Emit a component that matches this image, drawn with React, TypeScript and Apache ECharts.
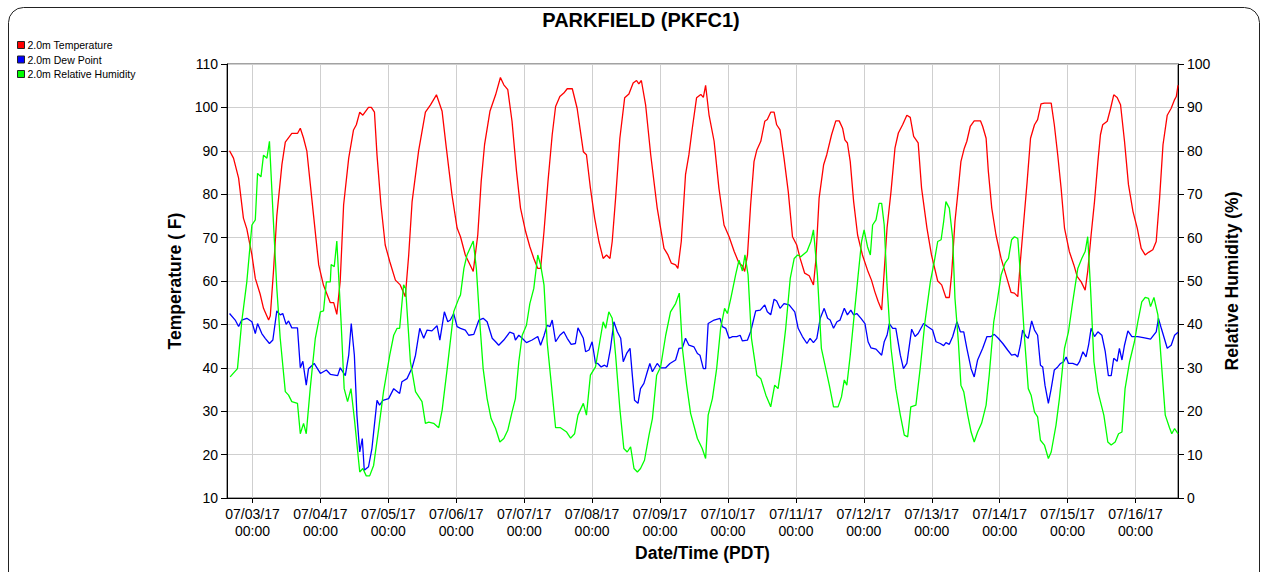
import React, { useEffect, useRef } from "react";
import * as echarts from "echarts";

// Hours are counted from 07/03/17 00:00 (PDT)
const BASE_TIME = Date.UTC(2017, 6, 3, 0, 0);
const X_MIN_HOURS = -9;
const X_MAX_HOURS = 327;
const dayTickHours = [0, 24, 48, 72, 96, 120, 144, 168, 192, 216, 240, 264, 288, 312];

const temperature: [number, number][] = [
  [-8.1, 90], [-6.7, 88.3], [-4.9, 83.7], [-3.2, 74.5], [-2, 72], [-0.2, 66], [1, 60.6], [2.7, 57], [3.9, 53.7], [5.7, 51], [6.3, 52], [7.4, 62], [8.6, 75], [10.4, 86.8], [11.6, 92], [13.9, 94], [15.9, 94], [16.9, 95.2], [18, 93], [19.2, 90], [21.6, 75], [23.4, 63.7], [25.1, 59], [27.5, 55], [28.7, 55], [29.8, 52.3], [31, 60],
  [32.2, 77.5], [34, 88.3], [35.7, 94.8], [36.7, 96], [37.9, 98.9], [39, 98.2], [41, 100], [42, 100], [43.1, 98.9], [44, 89], [45.4, 77.5], [46.9, 68.3], [48.5, 64.5], [50.5, 60.2], [52.2, 59.1], [54, 56.4], [55.2, 66], [56.4, 78.3], [58.7, 90], [61.1, 98.9], [62.9, 100.6], [65, 102.9], [67, 99.1], [68.5, 90.6], [70.5, 79.8], [72.3, 72.2],
  [73.5, 70.2], [75.2, 66], [78, 62.2], [79.6, 70.6], [80.8, 82.9], [82, 91.4], [83.9, 99.1], [85.9, 102.9], [87.6, 106.9], [88.8, 105.2], [90.2, 104.1], [91.7, 96.8], [93.3, 85.2], [94.7, 76.8], [96.5, 71.4], [98, 67.9], [99.4, 65.2], [100.8, 62.9], [101.8, 62.9], [103, 71.4], [104.4, 82.9], [105.9, 93.7], [107.1, 100.2], [108.6, 102.5], [110, 103.3], [111.2, 104.3], [113, 104.3], [114.7, 99.8],
  [116.9, 89.8], [118, 89.1], [119.4, 81.4], [120.9, 74.5], [122.4, 69.1], [123.9, 65.2], [125.1, 66], [126.3, 65.2], [127.1, 69.1], [128.3, 79.1], [129.8, 92.9], [131.5, 102.2], [133, 103.1], [134.5, 105.6], [135.7, 106.2], [136.5, 105.4], [137.4, 106.2], [138.9, 100.6], [140.7, 89.1], [143, 76.8], [145.4, 67.5], [146.8, 66], [148, 64.1], [149.5, 63.7], [150.3, 62.9], [151.5, 69.1], [153, 84.5], [154.2, 89.1], [155.4, 95.2], [156.9, 102.2], [158.4, 103],
  [159.3, 102.3], [160.1, 105.1], [161.3, 98.3], [163.1, 92.2], [164.8, 81.4], [166.6, 72.9], [168.4, 70.2], [170.2, 66.8], [171.9, 64.1], [173.1, 63.5], [173.9, 62.2], [174.9, 66], [176, 77.5], [177.2, 87.5], [178.2, 90.2], [179.6, 92.2], [181, 96.8], [181.9, 97.2], [183.1, 98.9], [184.3, 98.9], [185.2, 96], [186.4, 94.8], [187.8, 88.3], [189.3, 80.6], [190.8, 70.2], [192.3, 68.3], [193.5, 65.2], [195.1, 61.8], [196.7, 61.2], [198.2, 59.1], [199, 64.5], [200.2, 79.1], [201.8, 86.8], [202.9, 89.1],
  [204.6, 93.7], [206.1, 96.9], [207.3, 96.9], [208.5, 95.2], [209.3, 92.5], [210.2, 91.8], [211.2, 87.5], [212.4, 78.3], [213.8, 70.6], [215.5, 66], [217.3, 62.5], [218.7, 60.2], [219.9, 57.5], [221.1, 55.2], [222.3, 53.3], [223.2, 62.2], [224.2, 72.2], [225.6, 80.6], [227, 90.6], [228.2, 94.1], [229.7, 96], [231.2, 98.2], [232.4, 97.7], [233.6, 93.3], [235.2, 91.8], [236.4, 81.4], [238.3, 72.2], [239.9, 66], [242.1, 60], [243.5, 59.1], [245, 56.2],
  [246.2, 56.2], [247, 61.4], [248.2, 73.7], [249.4, 81.4], [250.3, 87.5], [251.5, 90.6], [252.4, 92.2], [253.6, 95.6], [255, 96.9], [257.2, 96.9], [258, 95.6], [259.2, 92.9], [260, 85.2], [261.2, 76.8], [262.7, 70.6], [264.5, 65.2], [266.2, 61.4], [268, 57.4], [269.2, 57.2], [270.4, 56.4], [271.3, 64.5], [272.5, 73.7], [273.7, 82.9], [274.9, 92.9], [276.3, 96], [277.4, 97.2], [278.6, 100.8], [279.8, 101], [282.2, 101], [283.3, 96], [284.5, 89.1], [285.7, 81.4],
  [286.9, 72.2], [288.6, 66.8], [290.2, 63.7], [291.4, 61], [292.8, 59.8], [294.2, 57.9], [295.1, 62.2], [296.3, 70.6], [297.5, 78.3], [298.7, 87.5], [299.6, 93.7], [300.4, 96], [302, 96.8], [303.2, 99.8], [304.3, 102.9], [305.5, 102.3], [306.7, 100.6], [308.1, 92.2], [309.5, 82.2], [311.1, 76], [312.6, 72.2], [314, 67.5], [315.4, 66], [316.6, 66.6], [318.1, 67.2], [319.3, 69.1], [320.5, 79.1], [321.7, 91.4], [323.2, 98.2], [324.6, 99.8], [325.8, 101.8], [326.4, 102.5], [327, 105.1],
];

const dewPoint: [number, number][] = [
  [-8.1, 52.5], [-6.1, 51], [-4.9, 49.5], [-3.8, 51], [-2, 51.4], [-0.2, 50.6], [1, 47.9], [1.8, 50.2], [3.3, 47.9], [4.5, 46.8], [6, 45.6], [7.2, 46.4], [8.6, 53.1], [9.8, 52.2], [10.7, 52.5], [11.9, 50], [12.75, 50.8], [13.9, 49.2], [15.9, 49.2], [16.9, 40], [17.8, 41.5], [19, 36], [19.8, 39.8], [21.8, 41], [24, 38.7], [26.1, 39.5], [27.5, 38.5], [30.1, 38.2], [31, 40],
  [32.8, 38.2], [34, 42.9], [34.9, 50.2], [36, 42.9], [36.9, 29.1], [37.9, 20.6], [38.8, 23.7], [39.5, 16.4], [41, 17.2], [42.2, 21.4], [44, 32.5], [44.9, 31.4], [46.1, 32.5], [48.1, 32.9], [49.9, 35.2], [52, 34.1], [52.8, 36.8], [54.6, 37.5], [56.4, 40], [57.6, 42.9], [59.1, 49.1], [60.5, 46.8], [61.7, 48.7], [63.4, 48.5], [65.2, 49.7], [66.2, 46.4], [67.8, 52.9], [69, 50.6], [69.9, 51], [71.1, 52.5], [72.3, 49.5],
  [73.5, 49.1], [75.2, 48.7], [76.4, 47.5], [78.2, 47.7], [80, 51], [81.5, 51.4], [82.9, 50.6], [84.7, 46.8], [85.9, 46], [87, 45.2], [88.8, 46.4], [90.9, 48.2], [92.3, 47.9], [92.9, 46.4], [94.1, 47.5], [95.3, 46.8], [96.8, 45.8], [98.8, 46.4], [100.8, 47.2], [101.8, 45.2], [103, 47.4], [104.1, 49.8], [105.1, 49.5], [105.9, 51], [107.1, 46], [108.6, 47.5], [110, 48.3], [111.2, 46.8], [112.6, 45.4], [114.1, 45.6], [115, 49.2],
  [116.9, 46.8], [117.7, 43.7], [118.9, 44.1], [120, 46], [121.2, 41], [122, 41], [123.2, 40.2], [124.4, 40.6], [125.3, 40.2], [126.5, 44.5], [127.7, 50.6], [128.9, 48.3], [130.1, 46.8], [131, 41.4], [132.2, 43.3], [133.4, 44.5], [134.2, 38.3], [135, 32.5], [136.2, 31.8], [137.1, 35.2], [138.3, 36.4], [139.5, 39.1], [140.4, 41], [141.3, 39.1], [143, 41], [144.2, 40], [146, 40], [147.5, 41], [149.5, 41.8], [150.7, 44.5], [151.9, 44.6], [153, 46.8], [154.2, 45.2], [156, 44.8], [157.2, 43.3], [158.1, 42.9],
  [159.3, 39.8], [160.1, 39.8], [161, 50.2], [163.1, 51], [165.2, 51.4], [166, 49.5], [167.2, 49.1], [168.4, 46.8], [169.6, 47.2], [171.1, 47.2], [172.3, 47.5], [173.1, 46.2], [174.9, 46.4], [176, 48.3], [177.8, 53.1], [179.4, 53.3], [181, 54.5], [181.9, 52.9], [183.1, 52.2], [184.3, 55.8], [185.2, 55.4], [186.4, 53.7], [187.8, 54.8], [189.6, 54.5], [191.6, 52.9], [192.8, 49.1], [194.3, 47.2], [195.9, 45.6], [197, 46.8], [198.2, 45.8], [199.4, 46.8], [200.6, 51.4],
  [202, 53.7], [203.2, 51.4], [204.1, 51], [205.3, 49.1], [206.5, 50.6], [207.6, 51], [209.1, 53.7], [210.2, 52.2], [211.4, 53.3], [212.4, 52.2], [213.5, 52.5], [215, 51.4], [216.4, 50.2], [217.5, 46], [218.5, 44.6], [220.3, 44.3], [222.3, 42.9], [223.2, 46], [224.2, 47.5], [225, 50.2], [226.2, 49.1], [227.3, 49.1], [228.9, 42.9], [230, 39.8], [231.2, 41], [232.9, 48.9], [234.1, 47.2], [235.2, 47.9], [237.1, 50.2], [238.5, 49.5], [240.3, 48.7], [241.5, 46], [243, 45.6],
  [244.2, 45.1], [245, 45.8], [246.2, 45.4], [247.4, 47.2], [248.9, 50.6], [250.1, 48.3], [251.3, 48.3], [252.4, 44.5], [253.9, 39.8], [255, 37.9], [256.2, 41.8], [258, 44.5], [259.5, 47.2], [260.9, 47.2], [262.1, 47.7], [263.5, 46.8], [265.1, 45.6], [266.8, 44.1], [268.2, 42.9], [269.4, 43.1], [270.4, 42.5], [271.3, 45.2], [272.1, 48.7], [273.3, 47.2], [274.1, 46.8], [275.3, 50.8], [276.3, 48.7], [277.4, 47.5], [278.4, 40.6], [279.2, 40.2], [280, 36], [281.2, 31.8], [282.2, 35.2], [283.3, 39.5], [284.5, 40.2], [285.5, 41],
  [286.6, 41.4], [287.5, 42.5], [288.3, 41], [289.8, 41], [291.4, 40.6], [292.2, 41.4], [293.4, 43.7], [294.5, 42.5], [295.4, 45.2], [296.3, 49.1], [297.5, 47.2], [298.7, 48.3], [300.1, 47.5], [301.3, 43.7], [302.4, 38.2], [303.4, 38.2], [304.3, 42.2], [305.5, 41.5], [306.3, 44.5], [307.2, 41.8], [308.1, 45.2], [309.3, 48.5], [310.7, 47.2], [312.8, 47.2], [315.2, 46.9], [317.3, 46.6], [319.3, 48.3], [320.1, 51.4], [321.1, 49.1], [323.2, 44.5], [324.6, 45.2], [325.8, 47.5], [327, 48.2],
];

const relativeHumidity: [number, number][] = [
  [-7.9, 27.9], [-5.3, 29.8], [-3.8, 40.6], [-2, 49.8], [-0.2, 62.9], [1, 64.1], [1.8, 74.8], [3, 74], [3.9, 79], [5.1, 78.3], [6, 82.2], [7.4, 63.7], [8.6, 48.3], [9.8, 36.8], [11.6, 24.5], [12.75, 23.7], [13.9, 22.2], [15.9, 21.8], [16.9, 14.8], [18.05, 17.2], [19, 14.8], [20.4, 25.2], [22.2, 36.8], [24, 42.9], [25.1, 43.1], [26.1, 49.8], [27.5, 49.8], [27.8, 53.8], [28.9, 53.3], [29.8, 59.2], [31.3, 40.6],
  [32.4, 25.2], [33.6, 22.2], [34.8, 25.2], [36, 18.3], [37.9, 6], [39, 6.8], [40.2, 5.1], [41.4, 5.1], [42.8, 7.5], [44.6, 16], [46.3, 24.5], [48.5, 32.9], [49.9, 37.5], [51.1, 39.1], [52, 39.1], [53.4, 49.1], [54.1, 48.3], [55.8, 31.4], [57.6, 24.5], [59.9, 22.2], [61.1, 17.2], [62.3, 17.5], [64, 17.2], [65.8, 16.2], [67, 20.2], [68.8, 29.8], [71.1, 42.9], [72.9, 46],
  [73.5, 46.8], [74.7, 52.9], [75.8, 56], [78, 59.2], [79.1, 52.9], [80.3, 40.6], [81.5, 29.8], [82.9, 22.9], [84.3, 18.3], [85.9, 16], [87.4, 12.9], [88.8, 13.7], [90.2, 15.6], [91.7, 19.8], [92.9, 22.9], [94.1, 31.4], [95.3, 37.5], [96.8, 39.8], [98, 44.8], [99.4, 48.3], [100.8, 56], [101.8, 53.7], [103, 49.1], [104.1, 36], [105.5, 26.8], [107.1, 16.2], [108.8, 16.2], [111, 15.2], [112.4, 13.8], [113.8, 14.8], [115, 19.1],
  [116.9, 21.8], [118, 19.1], [119.4, 28.3], [121.2, 30.2], [122.7, 36], [123.9, 40.6], [124.8, 39.1], [125.9, 42.9], [127.1, 41.4], [128.3, 32.9], [129.8, 20.6], [131.2, 11.4], [132.4, 10.6], [133.6, 11.8], [134.8, 6.8], [136, 6], [137.1, 6.8], [138.5, 8.7], [140.1, 14.5], [141.3, 18.3], [142.8, 28.3], [144.2, 30.2], [146, 37.5], [147.7, 42.9], [149.5, 44.8], [150.8, 47.2], [151.9, 34.5], [153.4, 26], [154.8, 19.5], [157.2, 13.7], [158.9, 11.4], [160.1, 9.1],
  [161, 19.1], [162.5, 22.9], [164, 29.8], [165.4, 39.1], [166.8, 43.7], [167.8, 42.5], [169, 46], [170.7, 51.4], [171.9, 54.8], [173.1, 52.3], [174, 56], [175.1, 51.4], [176.3, 36.8], [178.2, 28.3], [179.6, 27.5], [181.4, 23.7], [183.1, 21], [184.5, 26], [185.7, 25.2], [186.9, 30.6], [188.4, 39.1], [190, 50.6], [191.4, 55.2], [192.6, 56], [193.7, 55.6], [195.9, 56.8], [197.3, 59.1], [198.2, 61.8], [199.6, 51.4], [201, 34.5],
  [203.8, 26], [205.3, 21], [206.9, 21], [208.1, 23.3], [209.1, 27.2], [210, 26], [211.2, 32.9], [212.6, 42.2], [214, 51.4], [215.2, 59.1], [216.1, 61.8], [217.3, 57.9], [218.3, 56], [219.1, 62.9], [220.3, 64.1], [221.4, 67.9], [222.3, 67.9], [223.2, 62.9], [224.2, 49.1], [225.6, 34.5], [227.3, 25.2], [228.9, 19.1], [230.3, 14.5], [231.5, 14.1], [232.6, 21], [234.4, 21.4], [235.9, 29.8], [237.6, 40.6], [239.5, 49.8], [240.9, 54.5], [242.1, 59.1], [243.3, 59.5],
  [244.2, 63.7], [245, 68.3], [246.2, 66.8], [247.4, 59.8], [248.2, 46], [249.4, 36], [250.3, 26], [251.3, 24.5], [252.7, 19.1], [253.9, 15.2], [255, 12.9], [256.2, 15.2], [257.6, 17.2], [259.2, 21.4], [260.3, 28.3], [261.9, 40.6], [263.1, 45.2], [264.5, 51.4], [265.9, 54.1], [267.1, 55.2], [268.2, 59.5], [269.2, 60.2], [270.4, 59.8], [271.5, 49.8], [272.7, 37.5], [274.1, 25.2], [275.1, 23.7], [276.3, 19.8], [277.4, 18.7], [278.4, 13.3], [279.8, 12.2], [281.2, 9.1], [282.2, 10.6], [283.9, 16.8], [285.1, 22.9],
  [286.9, 34.5], [288.3, 38.3], [289.8, 45.2], [291.6, 52.9], [293, 55.2], [294.2, 56.8], [295.1, 60.2], [296.1, 48.3], [297.3, 31.4], [298.7, 24.5], [300.8, 19.1], [302.2, 12.9], [303.4, 12.2], [304.8, 12.9], [306, 14.8], [307.2, 15.2], [308.3, 25.2], [309.9, 31.4], [311.6, 36], [312.8, 40.6], [314.2, 45.2], [315.4, 46.2], [316.6, 46], [317.3, 44.1], [318.5, 46.2], [319.9, 42.2], [321.1, 31.4], [322.5, 19.1], [324, 16.2], [324.8, 14.8], [325.8, 16], [327, 14.8],
];

const seriesNames = ["2.0m Temperature", "2.0m Dew Point", "2.0m Relative Humidity"];
const seriesColors = ["#ff0000", "#0000ff", "#00ff00"];

const FONT = '"Liberation Sans", Arial, Helvetica, sans-serif';

const pad = (n: number) => (n < 10 ? "0" + n : String(n));
const formatHour = (h: number) => {
  const d = new Date(BASE_TIME + Math.round(h * 3600000));
  return `${pad(d.getUTCMonth() + 1)}/${pad(d.getUTCDate())}/${pad(d.getUTCFullYear() % 100)}\n${pad(d.getUTCHours())}:${pad(d.getUTCMinutes())}`;
};

export default function App() {
  const ref = useRef<HTMLDivElement>(null);
  useEffect(() => {
    if (!ref.current) return;
    const chart = echarts.init(ref.current, null, { renderer: "svg" });
    const option: any = {
      animation: false,
      backgroundColor: "#ffffff",
      textStyle: { fontFamily: FONT },
      title: {
        text: "PARKFIELD (PKFC1)",
        left: 636,
        top: 5,
        textAlign: "center",
        textStyle: { fontFamily: FONT, fontSize: 20, fontWeight: "bold", color: "#000" },
      },
      graphic: [
        {
          type: "rect",
          shape: { x: 8.5, y: 7.5, width: 1251, height: 640, r: 15 },
          style: { fill: "none", stroke: "#222", lineWidth: 1 },
          silent: true,
          z: -1,
        },
      ],
      legend: {
        orient: "vertical",
        left: 12,
        top: 34,
        itemWidth: 7,
        itemHeight: 7,
        itemGap: 2.5,
        icon: "rect",
        data: seriesNames,
        itemStyle: { borderColor: "#222", borderWidth: 1 },
        textStyle: { fontFamily: FONT, fontSize: 10.5, color: "#000", lineHeight: 12, padding: [0, 0, 0, -2] },
        selectedMode: false,
      },
      grid: {
        left: 227,
        right: 83,
        top: 64,
        bottom: 74,
        show: true,
        borderColor: "#444",
        borderWidth: 1,
        backgroundColor: "transparent",
      },
      xAxis: {
        type: "value",
        min: X_MIN_HOURS,
        max: X_MAX_HOURS,
        name: "Date/Time (PDT)",
        nameLocation: "middle",
        nameGap: 44,
        nameTextStyle: { fontFamily: FONT, fontSize: 17.5, fontWeight: "bold", color: "#000" },
        axisLine: { show: true, onZero: false, lineStyle: { color: "#000", width: 1 } },
        axisTick: { show: true, length: 5, customValues: dayTickHours, lineStyle: { color: "#000" } },
        axisLabel: {
          customValues: dayTickHours,
          formatter: (v: number) => formatHour(v),
          fontFamily: FONT,
          fontSize: 14,
          lineHeight: 17,
          color: "#000",
          margin: 7,
        },
        splitLine: { show: true, lineStyle: { color: "#cfcfcf", width: 1 } },
      },
      yAxis: [
        {
          type: "value",
          min: 10,
          max: 110,
          interval: 10,
          position: "left",
          name: "Temperature ( F)",
          nameLocation: "middle",
          nameRotate: 90,
          nameGap: 38,
          nameTextStyle: { fontFamily: FONT, fontSize: 17.5, fontWeight: "bold", color: "#000" },
          axisLine: { show: true, onZero: false, lineStyle: { color: "#000", width: 1 } },
          axisTick: { show: true, length: 6, lineStyle: { color: "#000" } },
          axisLabel: { fontFamily: FONT, fontSize: 14, color: "#000", margin: 9 },
          splitLine: { show: true, lineStyle: { color: "#cfcfcf", width: 1 } },
        },
        {
          type: "value",
          min: 0,
          max: 100,
          interval: 10,
          position: "right",
          name: "Relative Humidity (%)",
          nameLocation: "middle",
          nameRotate: 90,
          nameGap: 45,
          nameTextStyle: { fontFamily: FONT, fontSize: 17.5, fontWeight: "bold", color: "#000" },
          axisLine: { show: true, onZero: false, lineStyle: { color: "#000", width: 1 } },
          axisTick: { show: true, length: 6, lineStyle: { color: "#000" } },
          axisLabel: { fontFamily: FONT, fontSize: 14, color: "#000", margin: 9 },
          splitLine: { show: false },
        },
      ],
      series: [
        {
          name: seriesNames[0],
          type: "line",
          yAxisIndex: 0,
          data: temperature,
          showSymbol: false,
          color: seriesColors[0],
          lineStyle: { color: seriesColors[0], width: 1.3 },
        },
        {
          name: seriesNames[1],
          type: "line",
          yAxisIndex: 0,
          data: dewPoint,
          showSymbol: false,
          color: seriesColors[1],
          lineStyle: { color: seriesColors[1], width: 1.3 },
        },
        {
          name: seriesNames[2],
          type: "line",
          yAxisIndex: 1,
          data: relativeHumidity,
          showSymbol: false,
          color: seriesColors[2],
          lineStyle: { color: seriesColors[2], width: 1.3 },
        },
      ],
    };
    chart.setOption(option);
    return () => chart.dispose();
  }, []);
  return (
    <div
      ref={ref}
      style={{ position: "fixed", left: 0, top: 0, width: 1261, height: 572, background: "#fff" }}
    />
  );
}
